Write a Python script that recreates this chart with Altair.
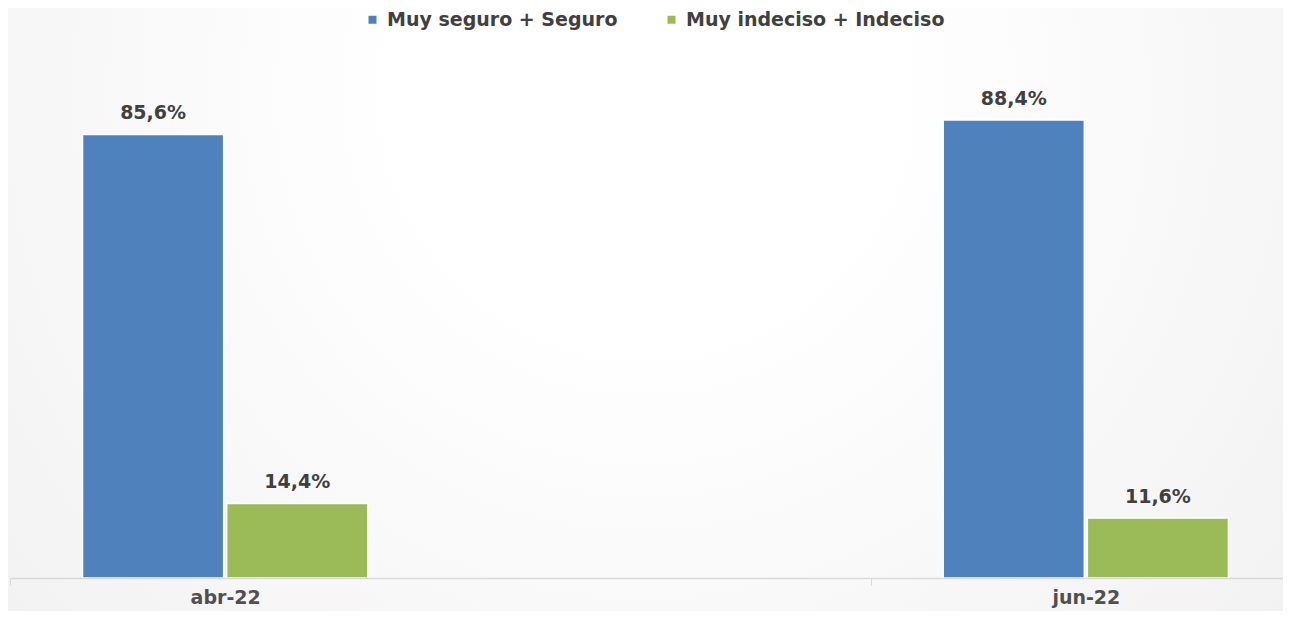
import altair as alt
import pandas as pd

months = ["abr-22", "jun-22"]
series = ["Muy seguro + Seguro", "Muy indeciso + Indeciso"]
seguro = [85.6, 88.4]
indeciso = [14.4, 11.6]
colors = ["#4F81BD", "#9BBB59"]

rows = []
for i, m in enumerate(months):
    rows.append({"mes": m, "serie": series[0], "valor": seguro[i]})
    rows.append({"mes": m, "serie": series[1], "valor": indeciso[i]})
df = pd.DataFrame(rows)

FONT = "DejaVu Sans"
TXT = "#404040"
W, H = 1275, 570
PAD_B = 33

bg = alt.Chart(pd.DataFrame({"a": [0]})).mark_rect(
    color={
        "gradient": "radial",
        "x1": 0.5, "y1": 0.33, "r1": 0.0,
        "x2": 0.5, "y2": 0.33, "r2": 0.75,
        "stops": [
            {"offset": 0.0, "color": "#ffffff"},
            {"offset": 0.25, "color": "#ffffff"},
            {"offset": 1.0, "color": "#efefef"},
        ],
    }
).encode(x=alt.value(0), x2=alt.value(W), y=alt.value(0), y2=alt.value(H + PAD_B))

x_scale = alt.Scale(domain=months, range=[2, 1293], paddingInner=0.5, paddingOuter=0)
x_enc = alt.X(
    "mes:N",
    sort=months,
    scale=x_scale,
    axis=alt.Axis(
        title=None,
        labelAngle=0,
        labelFont=FONT,
        labelFontSize=19,
        labelFontWeight="bold",
        labelColor="#505050",
        labelPadding=3,
        domainColor="#d9d9d9",
        domainWidth=1.5,
        tickColor="#d9d9d9",
        tickSize=7,
        tickOffset=-215,
        labelOffset=215,
        zindex=1,
    ),
)
y_enc = alt.Y("valor:Q", scale=alt.Scale(domain=[0, 110], nice=False), axis=None)
xoff = alt.XOffset(
    "serie:N", sort=series, scale=alt.Scale(domain=series, paddingInner=0.021, paddingOuter=0.503)
)

bars = alt.Chart(df).mark_bar(stroke="white", strokeWidth=1.5).encode(
    x=x_enc,
    xOffset=xoff,
    y=y_enc,
    color=alt.Color(
        "serie:N",
        sort=series,
        scale=alt.Scale(domain=series, range=colors),
        legend=alt.Legend(
            title=None,
            orient="none",
            legendX=355,
            legendY=2,
            direction="horizontal",
            symbolType="square",
            symbolSize=64,
            symbolStrokeWidth=0,
            labelFont=FONT,
            labelFontSize=19,
            labelFontWeight="bold",
            labelColor=TXT,
            labelLimit=0,
            columnPadding=44,
            labelOffset=5,
        ),
    ),
)

labels = alt.Chart(df).transform_calculate(
    lbl="replace(format(datum.valor, '.1f'), '.', ',') + '%'"
).mark_text(
    baseline="bottom", dy=-11, font=FONT, fontSize=19, fontWeight="bold", color=TXT
).encode(
    x=alt.X("mes:N", sort=months, scale=x_scale),
    xOffset=xoff,
    y=y_enc,
    text="lbl:N",
)

chart = alt.layer(bg, bars, labels).properties(
    width=W,
    height=H,
    autosize=alt.AutoSizeParams(type="none"),
    padding={"left": 0, "top": 0, "right": 0, "bottom": PAD_B},
    background="#f4f4f4",
).configure_view(stroke=None)

chart.save("out.html", embed_options={"renderer": "svg", "actions": False})
